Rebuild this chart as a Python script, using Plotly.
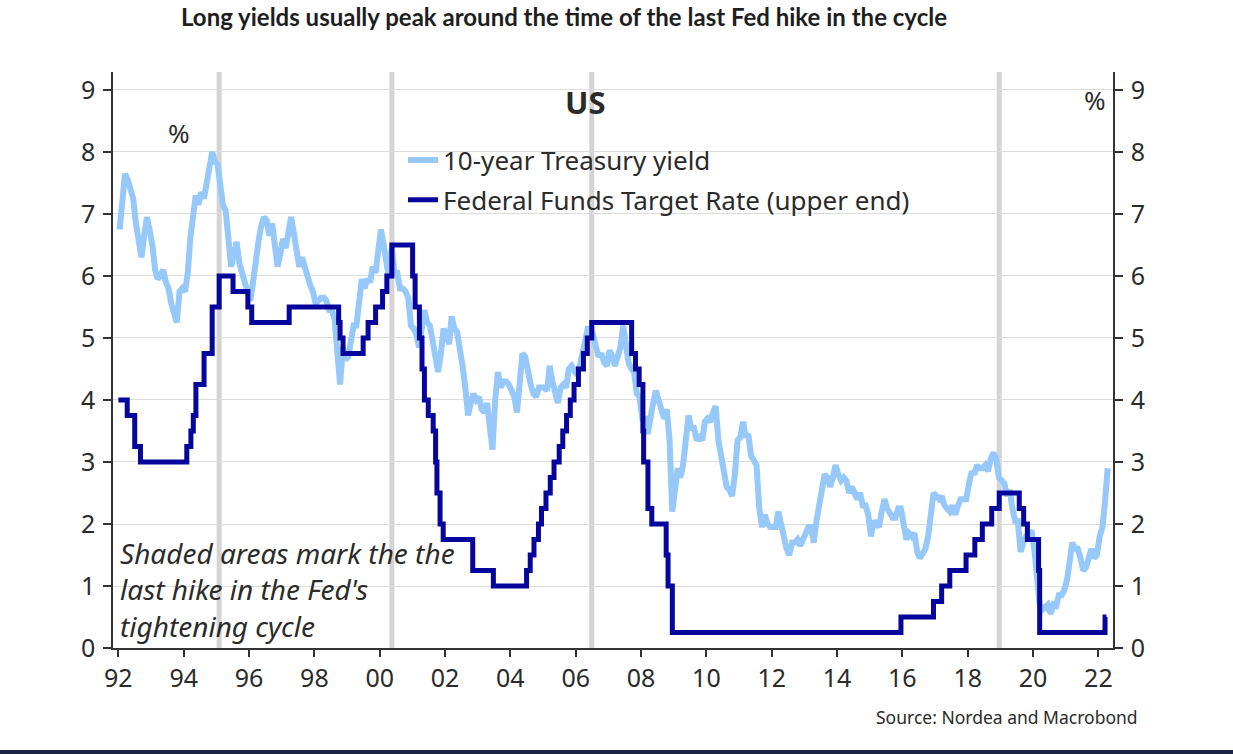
import pandas as pd
import plotly.graph_objects as go

# ---------------- data ----------------
# 10-year Treasury yield, monthly (Jan 1992 - Apr 2022), %
yield_start = "1992-01-01"
yield_10y = [
    6.75, 7.30, 7.65, 7.55, 7.40, 7.25, 6.85, 6.55, 6.30, 6.65, 6.95, 6.75,  # 1992
    6.50, 6.10, 5.95, 6.00, 6.10, 5.90, 5.80, 5.55, 5.35, 5.25, 5.75, 5.80,  # 1993
    5.75, 6.05, 6.60, 7.05, 7.30, 7.15, 7.35, 7.25, 7.50, 7.80, 8.00, 7.85,  # 1994
    7.80, 7.45, 7.15, 7.05, 6.60, 6.15, 6.35, 6.55, 6.20, 6.05, 5.90, 5.70,  # 1995
    5.60, 5.90, 6.30, 6.55, 6.80, 6.95, 6.90, 6.65, 6.85, 6.50, 6.15, 6.35,  # 1996
    6.60, 6.45, 6.75, 6.95, 6.70, 6.45, 6.15, 6.30, 6.15, 5.95, 5.85, 5.75,  # 1997
    5.55, 5.60, 5.65, 5.65, 5.60, 5.45, 5.45, 5.30, 4.70, 4.25, 4.85, 4.65,  # 1998
    4.70, 5.05, 5.20, 5.20, 5.60, 5.95, 5.80, 5.95, 5.90, 6.15, 6.05, 6.35,  # 1999
    6.75, 6.50, 6.25, 5.95, 6.45, 6.05, 6.05, 5.80, 5.80, 5.75, 5.65, 5.20,  # 2000
    5.15, 5.05, 4.85, 5.20, 5.45, 5.25, 5.20, 4.95, 4.65, 4.45, 4.75, 5.15,  # 2001
    5.05, 4.90, 5.35, 5.15, 5.10, 4.85, 4.55, 4.20, 3.75, 3.95, 4.10, 4.00,  # 2002
    4.05, 3.85, 3.80, 3.95, 3.50, 3.20, 4.00, 4.45, 4.20, 4.30, 4.30, 4.25,  # 2003
    4.15, 4.05, 3.80, 4.40, 4.75, 4.70, 4.45, 4.25, 4.10, 4.05, 4.20, 4.20,  # 2004
    4.20, 4.15, 4.55, 4.30, 4.10, 3.95, 4.20, 4.25, 4.20, 4.50, 4.55, 4.45,  # 2005
    4.40, 4.55, 4.75, 5.00, 5.15, 5.15, 5.05, 4.85, 4.70, 4.75, 4.60, 4.55,  # 2006
    4.80, 4.70, 4.55, 4.70, 4.85, 5.20, 4.95, 4.60, 4.50, 4.45, 4.10, 4.05,  # 2007
    3.70, 3.70, 3.45, 3.75, 3.95, 4.15, 4.00, 3.85, 3.70, 3.85, 3.35, 2.20,  # 2008
    2.50, 2.90, 2.75, 2.95, 3.35, 3.75, 3.55, 3.55, 3.35, 3.40, 3.35, 3.65,  # 2009
    3.70, 3.65, 3.80, 3.90, 3.35, 3.10, 2.95, 2.60, 2.55, 2.45, 2.80, 3.35,  # 2010
    3.40, 3.65, 3.40, 3.45, 3.10, 3.00, 2.95, 2.25, 1.95, 2.15, 2.00, 1.95,  # 2011
    1.95, 1.95, 2.20, 2.00, 1.75, 1.60, 1.50, 1.70, 1.70, 1.75, 1.65, 1.75,  # 2012
    1.90, 1.95, 1.95, 1.70, 2.05, 2.35, 2.60, 2.80, 2.75, 2.60, 2.75, 2.95,  # 2013
    2.80, 2.70, 2.75, 2.70, 2.50, 2.60, 2.50, 2.40, 2.50, 2.30, 2.30, 2.15,  # 2014
    1.80, 2.05, 2.00, 1.95, 2.20, 2.40, 2.25, 2.15, 2.10, 2.10, 2.25, 2.25,  # 2015
    2.00, 1.75, 1.85, 1.80, 1.85, 1.55, 1.45, 1.55, 1.60, 1.80, 2.25, 2.50,  # 2016
    2.45, 2.40, 2.45, 2.30, 2.25, 2.20, 2.30, 2.15, 2.30, 2.40, 2.40, 2.40,  # 2017
    2.65, 2.85, 2.80, 2.95, 2.90, 2.90, 2.95, 2.85, 3.05, 3.15, 3.05, 2.75,  # 2018
    2.70, 2.65, 2.45, 2.55, 2.25, 2.05, 2.05, 1.55, 1.70, 1.80, 1.80, 1.90,  # 2019
    1.60, 1.20, 0.70, 0.62, 0.66, 0.70, 0.55, 0.70, 0.68, 0.85, 0.85, 0.93,  # 2020
    1.10, 1.40, 1.70, 1.60, 1.60, 1.45, 1.25, 1.30, 1.50, 1.60, 1.45, 1.50,  # 2021
    1.80, 1.95, 2.35, 2.90,                                                  # 2022
]

# Federal Funds target rate (upper end), change dates and levels, %
ffr_dates = [
    "1992-01-01", "1992-04-09", "1992-07-02", "1992-09-04",
    "1994-02-04", "1994-03-22", "1994-04-18", "1994-05-17", "1994-08-16",
    "1994-11-15", "1995-02-01", "1995-07-06", "1995-12-19", "1996-01-31",
    "1997-03-25", "1998-09-29", "1998-10-15", "1998-11-17", "1999-06-30",
    "1999-08-24", "1999-11-16", "2000-02-02", "2000-03-21", "2000-05-16",
    "2001-01-03", "2001-01-31", "2001-03-20", "2001-04-18", "2001-05-15",
    "2001-06-27", "2001-08-21", "2001-09-17", "2001-10-02", "2001-11-06",
    "2001-12-11", "2002-11-06", "2003-06-25", "2004-06-30", "2004-08-10",
    "2004-09-21", "2004-11-10", "2004-12-14", "2005-02-02", "2005-03-22",
    "2005-05-03", "2005-06-30", "2005-08-09", "2005-09-20", "2005-11-01",
    "2005-12-13", "2006-01-31", "2006-03-28", "2006-05-10", "2006-06-29",
    "2007-09-18", "2007-10-31", "2007-12-11", "2008-01-22", "2008-01-30",
    "2008-03-18", "2008-04-30", "2008-10-08", "2008-10-29", "2008-12-16",
    "2015-12-16", "2016-12-14", "2017-03-15", "2017-06-14", "2017-12-13",
    "2018-03-21", "2018-06-13", "2018-09-26", "2018-12-19", "2019-07-31",
    "2019-09-18", "2019-10-30", "2020-03-03", "2020-03-15", "2022-03-16",
    "2022-04-01",
]
ffr_values = [
    4.00, 3.75, 3.25, 3.00,
    3.25, 3.50, 3.75, 4.25, 4.75,
    5.50, 6.00, 5.75, 5.50, 5.25,
    5.50, 5.25, 5.00, 4.75, 5.00,
    5.25, 5.50, 5.75, 6.00, 6.50,
    6.00, 5.50, 5.00, 4.50, 4.00,
    3.75, 3.50, 3.00, 2.50, 2.00,
    1.75, 1.25, 1.00, 1.25, 1.50,
    1.75, 2.00, 2.25, 2.50, 2.75,
    3.00, 3.25, 3.50, 3.75, 4.00,
    4.25, 4.50, 4.75, 5.00, 5.25,
    4.75, 4.50, 4.25, 3.50, 3.00,
    2.25, 2.00, 1.50, 1.00, 0.25,
    0.50, 0.75, 1.00, 1.25, 1.50,
    1.75, 2.00, 2.25, 2.50, 2.25,
    2.00, 1.75, 1.25, 0.25, 0.50,
    0.50,
]

# Last hike of each tightening cycle (shaded markers)
last_hike_dates = ["1995-02-01", "2000-05-16", "2006-06-29", "2018-12-19"]

series_names = ["10-year Treasury yield", "Federal Funds Target Rate (upper end)"]
note_lines = ["Shaded areas mark the the", "last hike in the Fed's", "tightening cycle"]
x_range = ["1991-11-02", "2022-06-13"]
y_ticks = list(range(0, 10))

# ---------------- figure ----------------
yield_dates = pd.date_range(start=yield_start, periods=len(yield_10y), freq="MS") + pd.Timedelta(days=14)

LIGHT = "#96c8fa"
NAVY = "#06069c"
FONT = "Noto Sans"
TXT = "#2b2b2b"

fig = go.Figure()
fig.add_trace(go.Scatter(
    x=yield_dates, y=yield_10y, mode="lines", name=series_names[0],
    line=dict(color=LIGHT, width=6), legend="legend",
))
fig.add_trace(go.Scatter(
    x=pd.to_datetime(ffr_dates), y=ffr_values, mode="lines", name=series_names[1],
    line=dict(color=NAVY, width=5, shape="hv"), legend="legend2",
))
# right axis carrier (invisible)
fig.add_trace(go.Scatter(x=[x_range[0]], y=[0], yaxis="y2", mode="lines",
                         line=dict(width=0), showlegend=False, hoverinfo="skip"))

for d in last_hike_dates:
    fig.add_shape(type="line", xref="x", yref="paper", x0=d, x1=d, y0=0, y1=1,
                  line=dict(color="#d4d4d4", width=5), layer="below")

# bottom dark strip
fig.add_shape(type="rect", xref="paper", yref="paper", x0=-0.12, x1=1.13,
              y0=-0.1771, y1=-0.2, line=dict(width=0), fillcolor="#1b2440")

axis_common = dict(
    range=[0, 9.29], tickvals=y_ticks, ticks="outside", ticklen=8, tickwidth=1.5,
    tickcolor="#333", showline=True, linecolor="#333", linewidth=1.5,
    tickfont=dict(family=FONT, size=25, color=TXT), zeroline=False,
    ticklabelstandoff=3,
)

fig.update_layout(
    width=1233, height=754,
    margin=dict(l=113, r=120, t=72, b=106),
    paper_bgcolor="white", plot_bgcolor="white",
    showlegend=True,
    xaxis=dict(
        type="date", range=x_range, tick0="1992-01-01", dtick="M24", tickformat="%y",
        ticks="outside", ticklen=7, tickwidth=1.5, tickcolor="#333",
        showline=True, linecolor="#333", linewidth=1.5, showgrid=False,
        tickfont=dict(family=FONT, size=25, color=TXT),
    ),
    yaxis=dict(showgrid=True, gridcolor="#dcdcdc", gridwidth=1, **axis_common),
    yaxis2=dict(overlaying="y", side="right", anchor="x", showgrid=False, **axis_common),
    legend=dict(x=0.290, y=0.847, xanchor="left", yanchor="middle",
                bgcolor="rgba(0,0,0,0)", font=dict(family=FONT, size=26, color=TXT)),
    legend2=dict(x=0.290, y=0.778, xanchor="left", yanchor="middle",
                 bgcolor="rgba(0,0,0,0)", font=dict(family=FONT, size=26, color=TXT)),
    title=dict(
        text="Long yields usually peak around the time of the last Fed hike in the cycle",
        x=181 / 1233, xanchor="left", xref="container",
        y=1 - 18 / 754, yanchor="middle", yref="container",
        font=dict(family="Lato", size=24, color="#1e1e1e", weight="bold"),
    ),
)

ann = [
    dict(text="<b>US</b>", x=0.472, y=0.948, font=dict(size=31)),
    dict(text="%", x=0.066, y=0.894, font=dict(size=26)),
    dict(text="%", x=0.982, y=0.951, font=dict(size=26)),
    dict(text="Source: Nordea and Macrobond", x=1.027, y=-0.12, xanchor="right",
         font=dict(size=17.5)),
    dict(text="<i>" + "<br>".join(note_lines) + "</i>", x=0.005, y=0.1024,
         xanchor="left", align="left", font=dict(size=28)),
]
for a in ann:
    f = dict(family=FONT, color=TXT)
    f.update(a.pop("font"))
    a.setdefault("xanchor", "center")
    a.setdefault("yanchor", "middle")
    fig.add_annotation(xref="paper", yref="paper", showarrow=False, font=f, **a)

fig.write_html("out.html", config={"displayModeBar": False},
               post_script="document.body.style.margin='0';")
